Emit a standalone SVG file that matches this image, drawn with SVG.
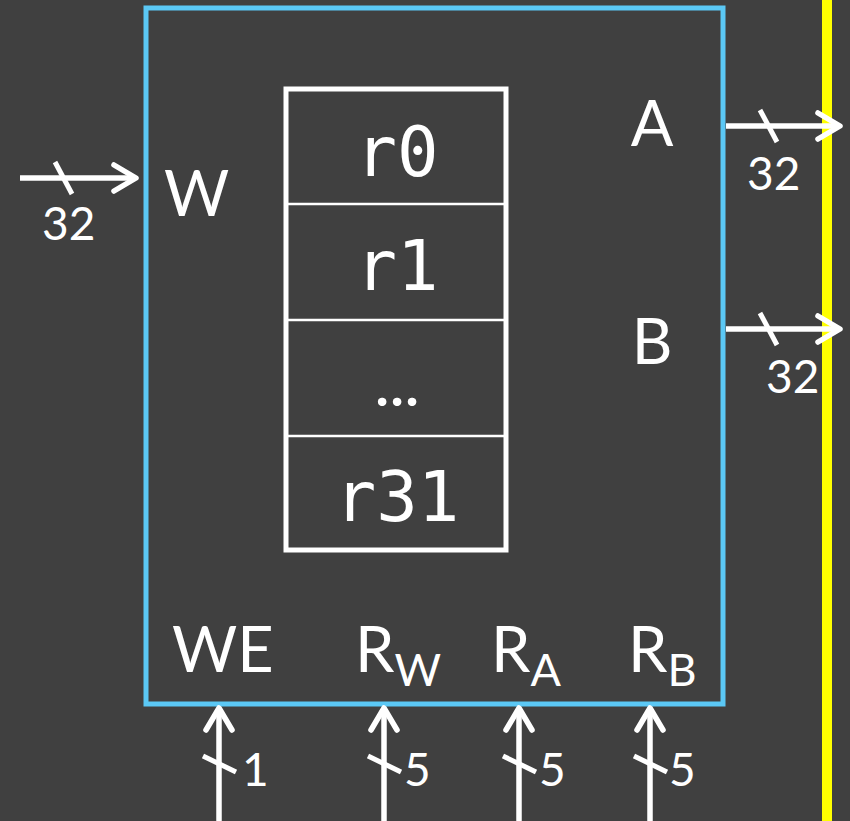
<svg xmlns="http://www.w3.org/2000/svg" width="850" height="821" viewBox="0 0 850 821">
<defs>
<style>
.lbl{font-family:Lato,"Open Sans","Liberation Sans",sans-serif;fill:#fff}
.mono{font-family:"DejaVu Sans Mono","Liberation Mono",monospace;fill:#fff;font-size:69px;text-anchor:middle}
.wire{stroke:#fff;stroke-width:5.5;fill:none}
.head{stroke:#fff;stroke-width:5.5;fill:none;stroke-linecap:round;stroke-linejoin:round}
.slash{stroke:#fff;stroke-width:5}
.num{font-family:Lato,"Open Sans","Liberation Sans",sans-serif;fill:#fff;font-size:46px}
</style>
</defs>
<rect width="850" height="821" fill="#404040"/>
<line x1="827" y1="0" x2="827" y2="821" stroke="#ffff00" stroke-width="10"/>
<g id="regfile">
<rect x="146" y="8" width="577" height="696" fill="none" stroke="#5bc8f5" stroke-width="5"/>
<text class="lbl" x="164" y="216" font-size="63">W</text>
<text class="lbl" x="652" y="146" font-size="63" text-anchor="middle">A</text>
<text class="lbl" x="652" y="364" font-size="63" text-anchor="middle">B</text>
<text class="lbl" x="172" y="672" font-size="63">WE</text>
<text class="lbl" x="355" y="672" font-size="63">R<tspan font-size="45" dy="14">W</tspan></text>
<text class="lbl" x="491" y="672" font-size="63">R<tspan font-size="45" dy="14">A</tspan></text>
<text class="lbl" x="628" y="672" font-size="63">R<tspan font-size="45" dy="14">B</tspan></text>
</g>
<g id="registers">
<rect x="286" y="89" width="220" height="461" fill="none" stroke="#fff" stroke-width="5"/>
<line x1="286" y1="204" x2="506" y2="204" stroke="#fff" stroke-width="2.5"/>
<line x1="286" y1="320" x2="506" y2="320" stroke="#fff" stroke-width="2.5"/>
<line x1="286" y1="436" x2="506" y2="436" stroke="#fff" stroke-width="2.5"/>
<text class="mono" x="397" y="176">r0</text>
<text class="mono" x="397" y="290">r1</text>
<text class="lbl" x="397" y="406" font-size="56" font-weight="bold" text-anchor="middle">…</text>
<text class="mono" x="397" y="521">r31</text>
</g>
<g id="connectors">
<g id="in-w">
<line class="wire" x1="20" y1="178" x2="136" y2="178"/>
<polyline class="head" points="114,165 136,178 114,191"/>
<line class="slash" x1="55" y1="162" x2="72" y2="194"/>
<text class="num" x="42" y="240">32</text>
</g>
<g id="out-a">
<line class="wire" x1="726" y1="126" x2="840" y2="126"/>
<polyline class="head" points="818,113 840,126 818,139"/>
<line class="slash" x1="760" y1="110" x2="777" y2="142"/>
<text class="num" x="747" y="190">32</text>
</g>
<g id="out-b">
<line class="wire" x1="726" y1="329" x2="840" y2="329"/>
<polyline class="head" points="818,316 840,329 818,342"/>
<line class="slash" x1="760" y1="313" x2="777" y2="345"/>
<text class="num" x="766" y="393">32</text>
</g>
<g id="in-we">
<line class="wire" x1="219" y1="821" x2="219" y2="708"/>
<polyline class="head" points="206,730 219,708 232,730"/>
<line class="slash" x1="203" y1="756" x2="236" y2="772"/>
<text class="num" x="242" y="786">1</text>
</g>
<g id="in-rw">
<line class="wire" x1="384" y1="821" x2="384" y2="708"/>
<polyline class="head" points="371,730 384,708 397,730"/>
<line class="slash" x1="368" y1="756" x2="401" y2="772"/>
<text class="num" x="404" y="786">5</text>
</g>
<g id="in-ra">
<line class="wire" x1="519" y1="821" x2="519" y2="708"/>
<polyline class="head" points="506,730 519,708 532,730"/>
<line class="slash" x1="503" y1="756" x2="536" y2="772"/>
<text class="num" x="539" y="786">5</text>
</g>
<g id="in-rb">
<line class="wire" x1="650" y1="821" x2="650" y2="708"/>
<polyline class="head" points="637,730 650,708 663,730"/>
<line class="slash" x1="634" y1="756" x2="667" y2="772"/>
<text class="num" x="669" y="786">5</text>
</g>
</g>
</svg>
